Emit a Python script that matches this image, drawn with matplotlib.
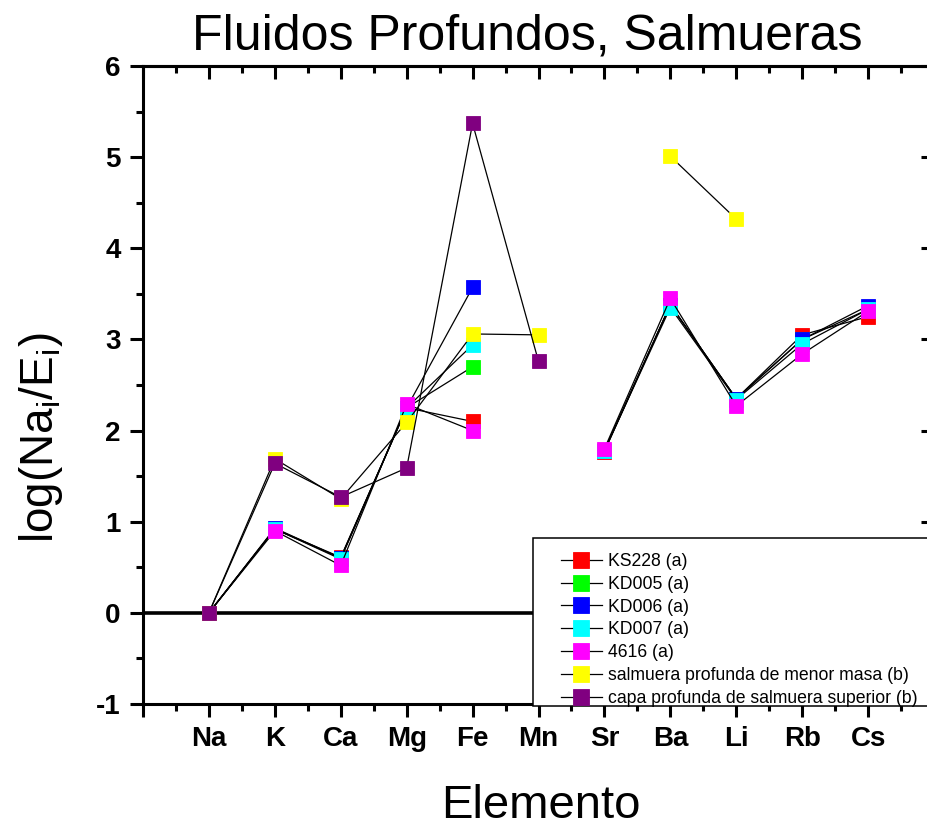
import numpy as np
import matplotlib
matplotlib.use("Agg")
import matplotlib.pyplot as plt
from matplotlib.patches import Rectangle
from matplotlib.ticker import MultipleLocator, FixedLocator

plt.rcParams['font.family'] = ['Liberation Sans', 'DejaVu Sans']
plt.rcParams['mathtext.default'] = 'regular'
plt.rcParams['axes.unicode_minus'] = False

elements = ["Na", "K", "Ca", "Mg", "Fe", "Mn", "Sr", "Ba", "Li", "Rb", "Cs"]
nan = np.nan
ks228 = [0, 0.92, 0.61, 2.25, 2.10, nan, 1.77, 3.38, 2.35, 3.05, 3.25]
kd005 = [0, 0.92, 0.60, 2.25, 2.70, nan, 1.78, 3.38, 2.35, 3.00, 3.33]
kd006 = [0, 0.93, 0.60, 2.25, 3.57, nan, 1.78, 3.38, 2.35, 3.00, 3.37]
kd007 = [0, 0.92, 0.59, 2.25, 2.94, nan, 1.78, 3.35, 2.34, 2.95, 3.33]
s4616 = [0, 0.90, 0.52, 2.29, 2.00, nan, 1.80, 3.45, 2.27, 2.84, 3.31]
salm_menor = [0, 1.69, 1.25, 2.09, 3.06, 3.05, nan, 5.01, 4.32, nan, nan]
capa_sup = [0, 1.64, 1.27, 1.59, 5.37, 2.76, nan, nan, nan, nan, nan]

series = [
    ("KS228 (a)", ks228, "#ff0000"),
    ("KD005 (a)", kd005, "#00ff00"),
    ("KD006 (a)", kd006, "#0000ff"),
    ("KD007 (a)", kd007, "#00ffff"),
    ("4616 (a)", s4616, "#ff00ff"),
    ("salmuera profunda de menor masa (b)", salm_menor, "#ffff00"),
    ("capa profunda de salmuera superior (b)", capa_sup, "#800080"),
]

W, H = 927, 827
fig = plt.figure(figsize=(W / 100, H / 100), dpi=100)
ax = fig.add_axes([143 / W, 1 - 704 / H, 791 / W, 638 / H])

x = np.arange(1, len(elements) + 1)
ax.axhline(0, color='black', lw=2.6, zorder=2)
handles = []
for name, vals, col in series:
    h, = ax.plot(x, vals, color='black', lw=0.9, marker='s', ms=10.2,
                 mfc=col, mec=col, mew=0.6, label=name, zorder=3)
    handles.append(h)

ax.set_xlim(0, 12)
ax.set_ylim(-1, 6)
ax.xaxis.set_major_locator(FixedLocator(np.arange(0, 13)))
ax.set_xticklabels([""] + elements + [""])
ax.xaxis.set_minor_locator(MultipleLocator(0.5))
ax.yaxis.set_major_locator(MultipleLocator(1))
ax.yaxis.set_minor_locator(MultipleLocator(0.5))

for s in ax.spines.values():
    s.set_linewidth(2.2)
ax.tick_params(axis='both', which='major', direction='out', length=9.5, width=2.2,
               labelsize=20, pad=6.5)
ax.tick_params(axis='both', which='minor', direction='out', length=5, width=2.2)
for lab in ax.get_xticklabels() + ax.get_yticklabels():
    lab.set_fontweight('bold')

secx = ax.secondary_xaxis('top')
secx.xaxis.set_major_locator(FixedLocator(np.arange(0, 13)))
secx.xaxis.set_minor_locator(MultipleLocator(0.5))
secx.tick_params(which='major', direction='in', length=9.5, width=2.2, labeltop=False)
secx.tick_params(which='minor', direction='in', length=5, width=2.2)
secx.spines['top'].set_linewidth(2.2)

secy = ax.secondary_yaxis('right')
secy.yaxis.set_major_locator(MultipleLocator(1))
secy.yaxis.set_minor_locator(MultipleLocator(0.5))
secy.tick_params(which='major', direction='in', length=9.5, width=2.2, labelright=False)
secy.tick_params(which='minor', direction='in', length=5, width=2.2)

fig.text(527 / W, 1 - 50 / H, "Fluidos Profundos, Salmueras", fontsize=36,
         ha='center', va='baseline')
fig.text(541 / W, 1 - 818 / H, "Elemento", fontsize=34, ha='center', va='baseline')
fig.text(41 / W, 1 - 438 / H, r'log(Na$_{i}$/E$_{i}$)', fontsize=33, rotation=90,
         ha='center', va='center')

# legend frame
rect = Rectangle((533 / W, 1 - 706 / H), (960 - 533) / W, (706 - 538) / H,
                 transform=fig.transFigure, facecolor='white', edgecolor='black',
                 lw=1.1, zorder=8, clip_on=False)
fig.add_artist(rect)
leg = fig.legend(handles=handles, loc='upper left',
                 bbox_to_anchor=(561 / W, 1 - 553 / H), bbox_transform=fig.transFigure,
                 frameon=False, fontsize=12.7, borderpad=0, borderaxespad=0,
                 handlelength=2.3, handletextpad=0.35, labelspacing=0.33,
                 markerscale=1.0)
leg.set_zorder(9)
for lh in leg.legend_handles:
    lh.set_markersize(11)

fig.savefig("out.png", dpi=100)
